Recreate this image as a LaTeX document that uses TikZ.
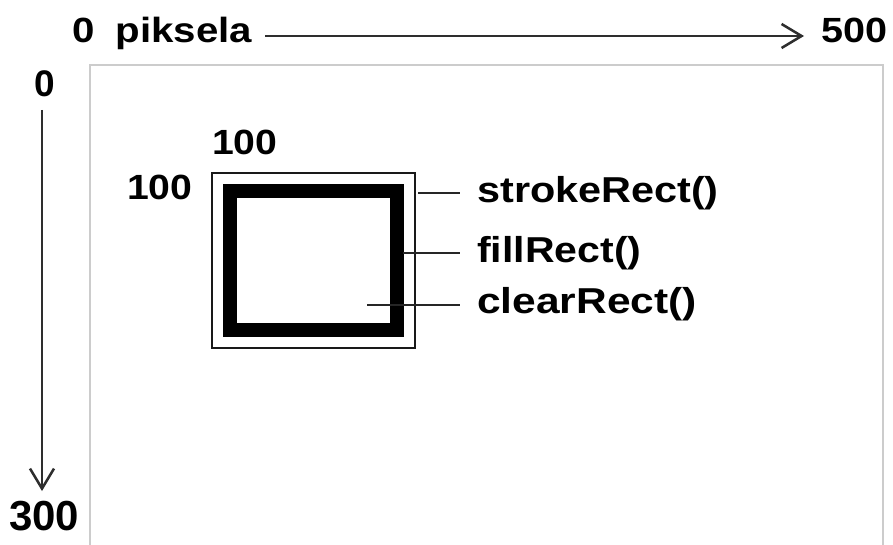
\documentclass[tikz,border=0pt]{standalone}
\usepackage{fontspec}
\setmainfont{Liberation Sans}
\usetikzlibrary{arrows.meta}
\begin{document}
\begin{tikzpicture}[x=1pt,y=-1pt,
  txt/.style={inner sep=0pt, anchor=base west, text=black},
  num/.style={txt, font=\fontsize{35}{40}\selectfont\bfseries},
  big/.style={txt, font=\fontsize{42}{46}\selectfont\bfseries},
  lbl/.style={txt, font=\fontsize{36}{40}\selectfont\bfseries},
  axis/.style={draw=black!82, line width=2pt,
    -{Straight Barb[length=20pt,width=24pt,line width=2.5pt]}},
  lead/.style={draw=black!85, line width=2pt, shorten >=17pt},
  canvasedge/.style={draw=black!20, line width=1.6pt}]
\useasboundingbox (0,0) rectangle (893,545);

% drawing surface
\draw[canvasedge] (90,545) -- (90,65) -- (883,65) -- (883,545);

% axis labels
\node[num] (px)   at (72,43)  {\scalebox{1.15}[1]{0\hspace{0.25em} piksela}};
\node[num] (xmax) at (821,43) {\scalebox{1.13}[1]{500}};
\node[num, font=\fontsize{37}{40}\selectfont\bfseries] (y0) at (34,97) {0};
\node[big] (ymax) at (9,530) {300};

% axes
\coordinate (hx0) at (265,36);
\coordinate (hx1) at (804,36);
\draw[axis] (hx0) -- (hx1);
\coordinate (vy0) at (42,110);
\coordinate (vy1) at (42,491);
\draw[axis] (vy0) -- (vy1);

% rectangle position labels
\node[num] (rx) at (212,155) {\scalebox{1.12}[1]{100}};
\node[num] (ry) at (127,200) {\scalebox{1.12}[1]{100}};

% the three rectangles
\draw[black!90, line width=2pt] (212,173) rectangle (415,348);
\draw[black, line width=14pt] (230,191.5) rectangle (397,329.5);

% method labels
\node[lbl] (sr) at (477,203) {\scalebox{1.15}[1]{strokeRect()}};
\node[lbl] (fr) at (477,262) {\scalebox{1.14}[1]{fillRect()}};
\node[lbl] (cr) at (477,313) {\scalebox{1.18}[1]{clearRect()}};

% leader lines
\coordinate (ps) at (418,193);
\coordinate (pf) at (403,253);
\coordinate (pc) at (367,305);
\draw[lead] (ps) -- (ps -| sr.west);
\draw[lead] (pf) -- (pf -| fr.west);
\draw[lead] (pc) -- (pc -| cr.west);
\end{tikzpicture}
\end{document}
